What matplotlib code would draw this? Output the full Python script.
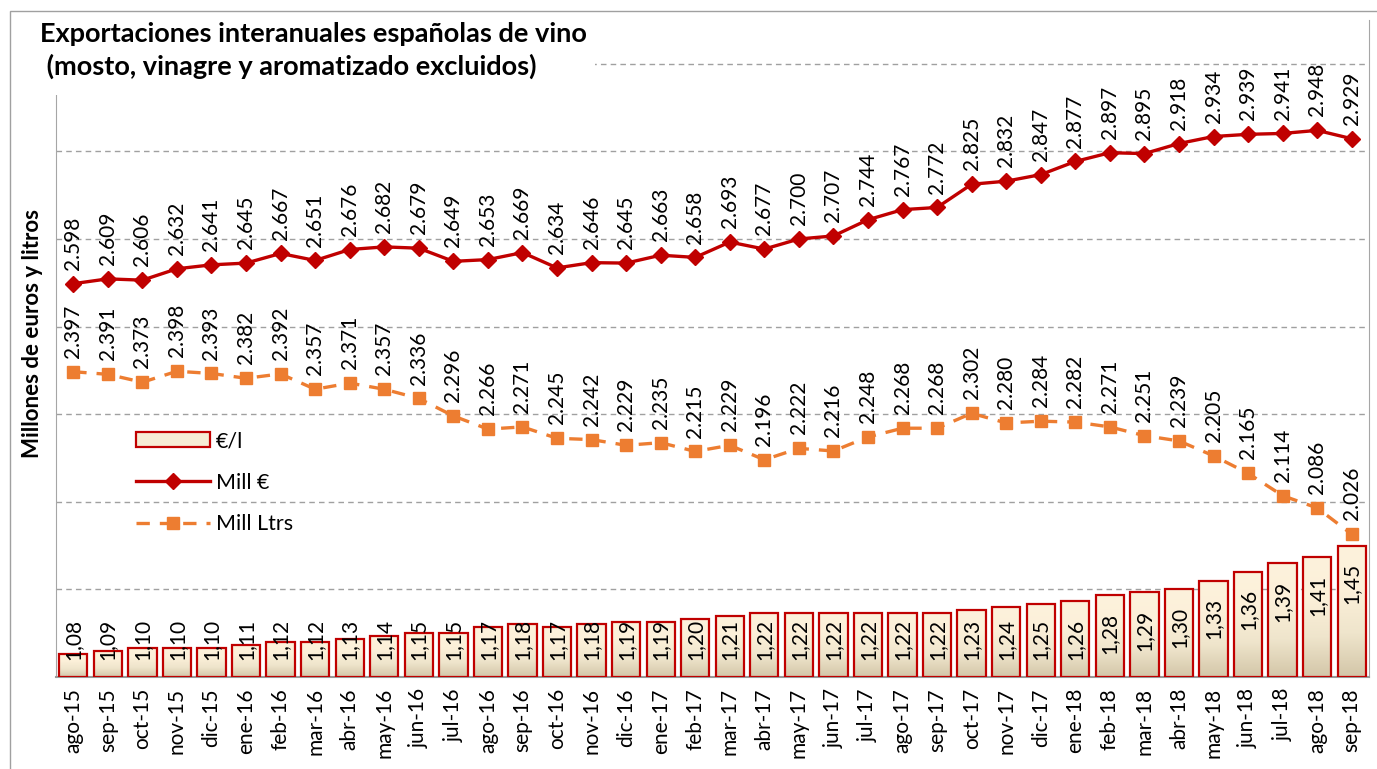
import matplotlib
matplotlib.use("Agg")
import matplotlib.pyplot as plt
import numpy as np
from matplotlib.colors import LinearSegmentedColormap
from matplotlib.patches import Rectangle, Patch
from matplotlib.lines import Line2D

plt.rcParams['font.family'] = ['Lato', 'DejaVu Sans']

meses = ["ago-15", "sep-15", "oct-15", "nov-15", "dic-15", "ene-16", "feb-16", "mar-16",
         "abr-16", "may-16", "jun-16", "jul-16", "ago-16", "sep-16", "oct-16", "nov-16",
         "dic-16", "ene-17", "feb-17", "mar-17", "abr-17", "may-17", "jun-17", "jul-17",
         "ago-17", "sep-17", "oct-17", "nov-17", "dic-17", "ene-18", "feb-18", "mar-18",
         "abr-18", "may-18", "jun-18", "jul-18", "ago-18", "sep-18"]

mill_eur = [2.598, 2.609, 2.606, 2.632, 2.641, 2.645, 2.667, 2.651, 2.676, 2.682, 2.679,
            2.649, 2.653, 2.669, 2.634, 2.646, 2.645, 2.663, 2.658, 2.693, 2.677, 2.700,
            2.707, 2.744, 2.767, 2.772, 2.825, 2.832, 2.847, 2.877, 2.897, 2.895, 2.918,
            2.934, 2.939, 2.941, 2.948, 2.929]

mill_ltrs = [2.397, 2.391, 2.373, 2.398, 2.393, 2.382, 2.392, 2.357, 2.371, 2.357, 2.336,
             2.296, 2.266, 2.271, 2.245, 2.242, 2.229, 2.235, 2.215, 2.229, 2.196, 2.222,
             2.216, 2.248, 2.268, 2.268, 2.302, 2.280, 2.284, 2.282, 2.271, 2.251, 2.239,
             2.205, 2.165, 2.114, 2.086, 2.026]

eur_litro = [1.08, 1.09, 1.10, 1.10, 1.10, 1.11, 1.12, 1.12, 1.13, 1.14, 1.15, 1.15, 1.17,
             1.18, 1.17, 1.18, 1.19, 1.19, 1.20, 1.21, 1.22, 1.22, 1.22, 1.22, 1.22, 1.22,
             1.23, 1.24, 1.25, 1.26, 1.28, 1.29, 1.30, 1.33, 1.36, 1.39, 1.41, 1.45]

rojo = "#C00000"
naranja = "#ED7D31"
gris = "#A6A6A6"

W, H = 1377, 769
fig = plt.figure(figsize=(W / 100, H / 100), dpi=100)
ax = fig.add_axes([56 / W, 1 - 677 / H, (1369 - 56) / W, (677 - 20) / H])
ax2 = ax.twinx()

x = np.arange(len(meses))
bw = 0.82
bar_min = 1.0

# bars with gradient fill
cmap = LinearSegmentedColormap.from_list("crema", ["#D3C6A8", "#EFE5CC", "#FCF0D9", "#FDF2DC"])
grad = np.linspace(0, 1, 256).reshape(-1, 1)
for xi, v in zip(x, eur_litro):
    ax.imshow(grad, extent=[xi - bw / 2, xi + bw / 2, bar_min, v], origin="lower",
              aspect="auto", cmap=cmap, zorder=2)
ax.bar(x, np.array(eur_litro) - bar_min, bottom=bar_min, width=bw, facecolor="none",
       edgecolor=rojo, linewidth=1.6, zorder=3)
for xi, v in zip(x, eur_litro):
    ypos = max(1.127, v - 0.13)
    ax.text(xi, ypos, f"{v:.2f}".replace(".", ","), rotation=90, ha="center",
            va="center", fontsize=15, zorder=4)

ax.set_xlim(-0.5, len(meses) - 0.5)
ax.set_ylim(1.0, 3.25)
ax.set_yticks(np.arange(1.3, 3.11, 0.3))
ax.set_yticklabels([])
ax.grid(axis="y", color="#A0A0A0", linestyle=(0, (4, 3)), linewidth=1)
ax.set_axisbelow(True)
ax.set_xticks(x)
ax.set_xticklabels(meses, rotation=90, fontsize=15)
ax.tick_params(axis="both", length=0)
ax.tick_params(axis="x", pad=8)
ax.spines["top"].set_visible(False)
for s in ["left", "right"]:
    ax.spines[s].set_color(gris)
ax.spines["bottom"].set_color("#999999")
ax.spines["bottom"].set_linewidth(1.5)

# lines
ax2.plot(x, mill_eur, color=rojo, linewidth=2.4, marker="D", markersize=8,
         markeredgecolor=rojo, zorder=5)
ax2.plot(x, mill_ltrs, color=naranja, linewidth=2.4, linestyle=(0, (4, 3)), marker="s",
         markersize=9, markeredgecolor=naranja, zorder=5)
for xi, v in zip(x, mill_eur):
    ax2.annotate(f"{v:.3f}", (xi, v), xytext=(0, 10), textcoords="offset points",
                 rotation=90, ha="center", va="bottom", fontsize=15)
for xi, v in zip(x, mill_ltrs):
    ax2.annotate(f"{v:.3f}", (xi, v), xytext=(0, 10), textcoords="offset points",
                 rotation=90, ha="center", va="bottom", fontsize=15)
ax2.set_ylim(1.7, 3.2)
ax2.set_yticks([])
for s in ax2.spines.values():
    s.set_visible(False)

handles = [Patch(facecolor="#F6ECD4", edgecolor=rojo, linewidth=1.6),
           Line2D([], [], color=rojo, linewidth=2.4, marker="D", markersize=8),
           Line2D([], [], color=naranja, linewidth=2.4, linestyle=(0, (4, 3)), marker="s",
                  markersize=9)]
ax2.legend(handles, ["€/l", "Mill €", "Mill Ltrs"], loc="upper left",
           bbox_to_anchor=(117 / W, 1 - 412 / H), bbox_transform=fig.transFigure,
           frameon=False, fontsize=15.5, handlelength=3.4, labelspacing=1.0,
           handletextpad=0.3)

# outer frame and title
fig.patches.append(Rectangle((10 / W, -0.1), 1.2, 1.1 - 11 / H, transform=fig.transFigure,
                             fill=False, edgecolor="#A0A0A0", linewidth=1, zorder=1))
fig.patches.append(Rectangle((14 / W, 1 - 95 / H), 581 / W, 80 / H,
                             transform=fig.transFigure, facecolor="white",
                             edgecolor="none", zorder=5))
fig.text(40 / W, 1 - 22 / H, "Exportaciones interanuales españolas de vino\n (mosto, vinagre y aromatizado excluidos)",
         fontsize=19.5, fontweight="bold", va="top", ha="left", zorder=6, linespacing=1.35)
fig.text(33 / W, 1 - 333 / H, "Millones de euros y litros", rotation=90, fontsize=16,
         fontweight="bold", ha="center", va="center")

fig.savefig("out.png", dpi=100)
